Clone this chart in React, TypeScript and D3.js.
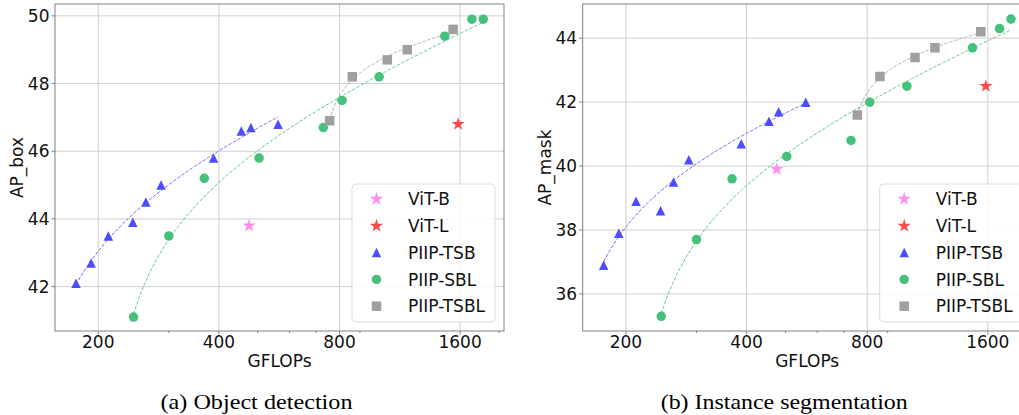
import React from "react";
import * as d3 from "d3";

// GFLOPs per model (shared by both panels)
const gflopsTSB = [176, 192, 212, 244, 263, 287, 388, 455, 481, 562];
const gflopsSBL = [245, 300, 368, 504, 729, 812, 1005, 1465, 1712, 1828];
const gflopsTSBL = [756, 861, 1053, 1181, 1537];
const gflopsViTB = [476];
const gflopsViTL = [1582];

// AP_box
const boxTSB = [42.1, 42.7, 43.5, 43.9, 44.5, 45.0, 45.8, 46.6, 46.7, 46.8];
const boxSBL = [41.1, 43.5, 45.2, 45.8, 46.7, 47.5, 48.2, 49.4, 49.9, 49.9];
const boxTSBL = [46.9, 48.2, 48.7, 49.0, 49.6];
const boxViTB = [43.8];
const boxViTL = [46.8];

// AP_mask
const maskTSB = [36.9, 37.9, 38.9, 38.6, 39.5, 40.2, 40.7, 41.4, 41.7, 42.0];
const maskSBL = [35.3, 37.7, 39.6, 40.3, 40.8, 42.0, 42.5, 43.7, 44.3, 44.6];
const maskTSBL = [41.6, 42.8, 43.4, 43.7, 44.2];
const maskViTB = [39.9];
const maskViTL = [42.5];

const xTicks = [200, 400, 800, 1600];
const xMinorTicks = [300, 500, 600, 700, 900, 2000];
const boxTicks = [42, 44, 46, 48, 50];
const maskTicks = [36, 38, 40, 42, 44];

const legendNames = ["ViT-B", "ViT-L", "PIIP-TSB", "PIIP-SBL", "PIIP-TSBL"];
const legendShapes = ["star", "star", "triangle", "circle", "square"];
const legendColors = ["#ff8ef2", "#ff4848", "#4d4dff", "#45c17b", "#a0a0a0"];

const FONT = "DejaVu Sans, sans-serif";

// least squares fit of y = a + b*ln(x - c)
function fitLog(xs: number[], ys: number[]) {
  const minX = d3.min(xs) as number;
  let best = { a: 0, b: 0, c: 0, err: Infinity };
  for (let k = 0; k < 8000; k++) {
    const c = minX - 0.25 - k * 0.5;
    const u = xs.map((x) => Math.log(x - c));
    const mu = d3.mean(u) as number;
    const my = d3.mean(ys) as number;
    let sxy = 0, sxx = 0;
    u.forEach((v, i) => {
      sxy += (v - mu) * (ys[i] - my);
      sxx += (v - mu) * (v - mu);
    });
    const b = sxy / sxx;
    const a = my - b * mu;
    const err = d3.sum(u, (v, i) => (a + b * v - ys[i]) ** 2);
    if (err < best.err) best = { a, b, c, err };
  }
  return best;
}

function markerPath(shape: string, s: number) {
  const h = s / 2;
  if (shape === "triangle") return `M0,${-h}L${h},${h}L${-h},${h}Z`;
  if (shape === "square") return `M${-h},${-h}H${h}V${h}H${-h}Z`;
  if (shape === "circle") return d3.symbol(d3.symbolCircle, Math.PI * h * h)() as string;
  // five point star
  const R = s / 2, r = R * 0.382;
  const pts = d3.range(10).map((i) => {
    const ang = (i * Math.PI) / 5 - Math.PI / 2;
    const rad = i % 2 === 0 ? R : r;
    return [rad * Math.cos(ang), rad * Math.sin(ang)];
  });
  return "M" + pts.map((p) => p.join(",")).join("L") + "Z";
}

const markerSize: Record<string, number> = { star: 14, triangle: 9.5, circle: 9.5, square: 9.5 };

function Panel({ left, yDomain, yTicks, yLabel, tsb, sbl, tsbl, vitb, vitl, caption, captionWidth }: any) {
  const width = 449;
  const top = 4;
  const bottom = 331;
  const x = d3.scaleLog().domain([156, 2059]).range([left, left + width]);
  const y = d3.scaleLinear().domain(yDomain).range([bottom, top]);

  const fits = [
    { xs: gflopsTSB, ys: tsb, color: legendColors[2] },
    { xs: gflopsSBL, ys: sbl, color: legendColors[3] },
    { xs: gflopsTSBL, ys: tsbl, color: legendColors[4] },
  ];
  const line = d3.line<number[]>().x((d) => x(d[0])).y((d) => y(d[1]));

  const series = [
    { xs: gflopsViTB, ys: vitb, i: 0 },
    { xs: gflopsViTL, ys: vitl, i: 1 },
    { xs: gflopsTSB, ys: tsb, i: 2 },
    { xs: gflopsSBL, ys: sbl, i: 3 },
    { xs: gflopsTSBL, ys: tsbl, i: 4 },
  ];

  const legX = left + width - 152;
  const legY = 184;

  return (
    <g>
      <defs>
        <clipPath id={`clip-${left}`}>
          <rect x={left} y={top} width={width} height={bottom - top} />
        </clipPath>
      </defs>
      {/* grid */}
      {xTicks.map((t) => (
        <line key={"gx" + t} x1={x(t)} x2={x(t)} y1={top} y2={bottom} stroke="#d0d0d0" strokeWidth={1} />
      ))}
      {yTicks.map((t: number) => (
        <line key={"gy" + t} x1={left} x2={left + width} y1={y(t)} y2={y(t)} stroke="#d0d0d0" strokeWidth={1} />
      ))}
      <g clipPath={`url(#clip-${left})`}>
        {fits.map((f, k) => {
          const p = fitLog(f.xs, f.ys);
          const x0 = d3.min(f.xs) as number, x1 = d3.max(f.xs) as number;
          const pts = d3.range(0, 201).map((i) => {
            const xv = x0 + ((x1 - x0) * i) / 200;
            return [xv, p.a + p.b * Math.log(xv - p.c)];
          });
          return (
            <path key={"fit" + k} d={line(pts) as string} fill="none" stroke={f.color}
              strokeOpacity={0.85} strokeWidth={1} strokeDasharray="3.5,1.6" />
          );
        })}
        {series.map((s) =>
          s.xs.map((xv: number, j: number) => (
            <path key={`m${s.i}-${j}`} d={markerPath(legendShapes[s.i], markerSize[legendShapes[s.i]])}
              transform={`translate(${x(xv)},${y(s.ys[j])})`} fill={legendColors[s.i]} />
          ))
        )}
      </g>
      {/* spines */}
      <rect x={left} y={top} width={width} height={bottom - top} fill="none" stroke="#808080" strokeWidth={1} />
      {/* x ticks */}
      {xTicks.map((t) => (
        <g key={"xt" + t}>
          <line x1={x(t)} x2={x(t)} y1={bottom} y2={bottom + 3.5} stroke="#808080" />
          <text x={x(t)} y={348} textAnchor="middle" fontFamily={FONT} fontSize={17} fill="#111">{t}</text>
        </g>
      ))}
      {xMinorTicks.map((t) => (
        <line key={"xm" + t} x1={x(t)} x2={x(t)} y1={bottom} y2={bottom + 2} stroke="#808080" />
      ))}
      {yTicks.map((t: number) => (
        <g key={"yt" + t}>
          <line x1={left - 3.5} x2={left} y1={y(t)} y2={y(t)} stroke="#808080" />
          <text x={left - 5.5} y={y(t)} dy="0.36em" textAnchor="end" fontFamily={FONT} fontSize={17} fill="#111">{t}</text>
        </g>
      ))}
      <text x={left + width / 2} y={367} textAnchor="middle" fontFamily={FONT} fontSize={17} fill="#111">GFLOPs</text>
      <text transform={`translate(${left - 38},${(top + bottom) / 2}) rotate(-90)`} dy="0.36em" textAnchor="middle"
        fontFamily={FONT} fontSize={17} fill="#111">{yLabel}</text>
      {/* legend */}
      <rect x={legX} y={legY} width={143} height={138} rx={4} fill="#fff" fillOpacity={0.85} stroke="#dcdcdc" />
      {legendNames.map((n, i) => {
        const cy = legY + 15 + i * 26.8;
        return (
          <g key={"leg" + n}>
            <path d={markerPath(legendShapes[i], markerSize[legendShapes[i]])} transform={`translate(${legX + 24.5},${cy})`} fill={legendColors[i]} />
            <text x={legX + 56} y={cy} dy="0.36em" fontFamily={FONT} fontSize={17} fill="#111">{n}</text>
          </g>
        );
      })}
      <text x={left + width / 2 - 23} y={409} textAnchor="middle" fontFamily="Liberation Serif, Times New Roman, serif"
        fontSize={21} textLength={captionWidth} lengthAdjust="spacingAndGlyphs" fill="#000">{caption}</text>
    </g>
  );
}

export default function App() {
  return (
    <svg width={1019} height={415} style={{ position: "absolute", left: 0, top: 0, background: "#fff" }}>
      <rect width={1019} height={415} fill="#fff" />
      <Panel left={55} yDomain={[40.69, 50.35]} yTicks={boxTicks} yLabel="AP_box"
        tsb={boxTSB} sbl={boxSBL} tsbl={boxTSBL} vitb={boxViTB} vitl={boxViTL}
        caption="(a) Object detection" captionWidth={192} />
      <Panel left={582.7} yDomain={[34.84, 45.07]} yTicks={maskTicks} yLabel="AP_mask"
        tsb={maskTSB} sbl={maskSBL} tsbl={maskTSBL} vitb={maskViTB} vitl={maskViTL}
        caption="(b) Instance segmentation" captionWidth={247} />
    </svg>
  );
}
